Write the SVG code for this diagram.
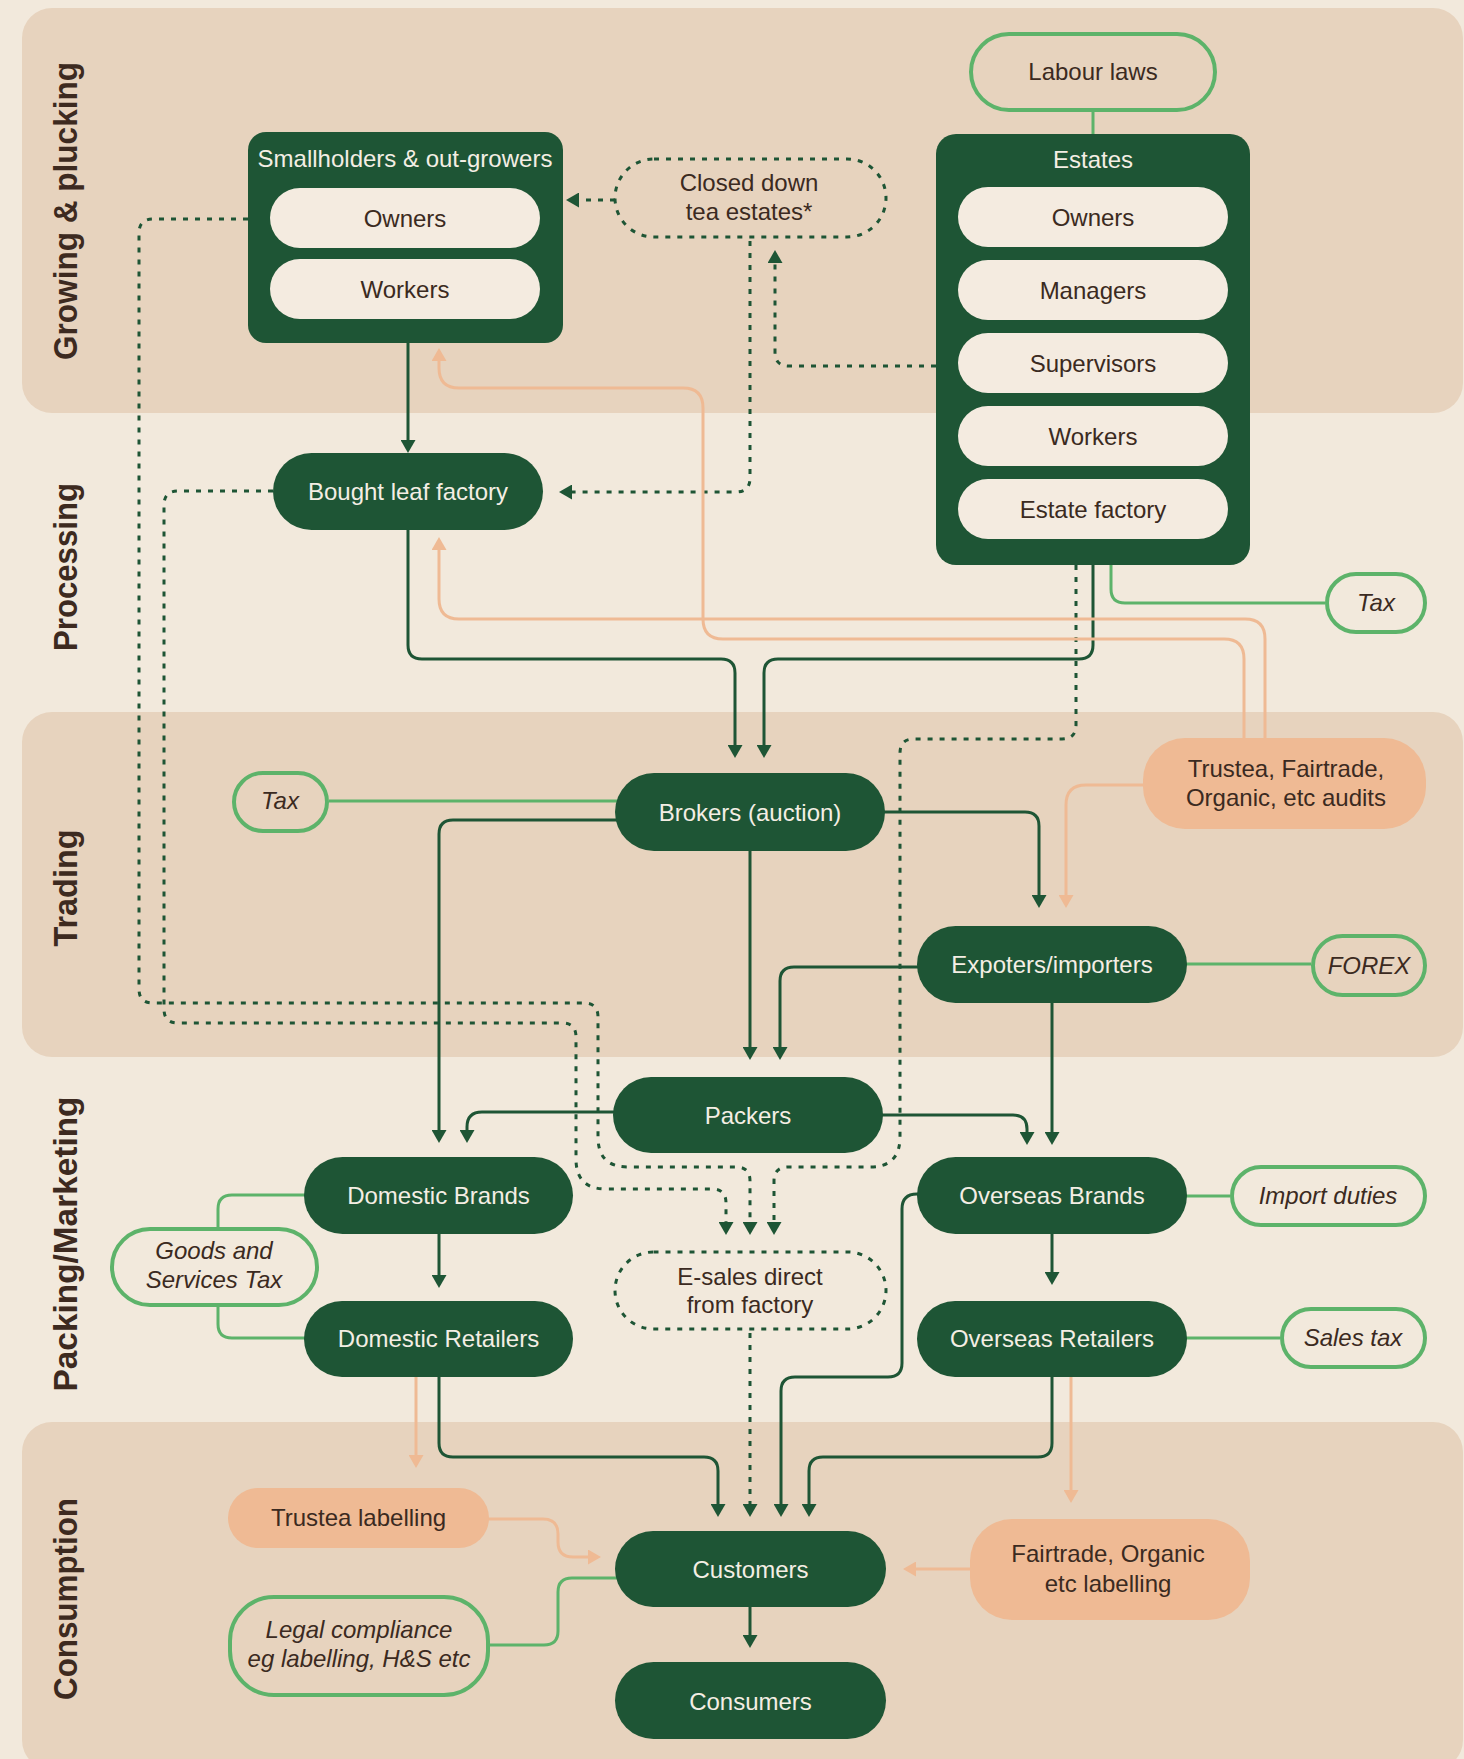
<svg xmlns="http://www.w3.org/2000/svg" width="1464" height="1759" viewBox="0 0 1464 1759">
<defs>
<style>
.band{fill:#E7D3BE}
.sec{font-family:"Liberation Sans",Arial,sans-serif;font-weight:bold;font-size:34px;fill:#3D2A20;text-anchor:middle}
.dk{fill:#1E5535}
.pl{fill:#F4EBE0}
.t{font-family:"Liberation Sans",Arial,sans-serif;font-size:24px;text-anchor:middle}
.w{fill:#F4EEE4}
.b{fill:#3B2A21}
.it{font-style:italic}
.og{fill:none;stroke:#5DB36A;stroke-width:4}
.pe{fill:#EFBA94}
.ds{fill:none;stroke:#1E5535;stroke-width:3;stroke-dasharray:5 7}
.c{fill:none;stroke-width:3}
.cd{stroke:#1E5535}
.cp{stroke:#EFBA94}
.cg{stroke:#5DB36A}
</style>
<marker id="ad" viewBox="0 0 13 15" refX="5" refY="7.5" markerWidth="13" markerHeight="15" markerUnits="userSpaceOnUse" orient="auto"><path d="M0,0 L13,7.5 L0,15 z" fill="#1E5535"/></marker>
<marker id="ap" viewBox="0 0 13 15" refX="5" refY="7.5" markerWidth="13" markerHeight="15" markerUnits="userSpaceOnUse" orient="auto"><path d="M0,0 L13,7.5 L0,15 z" fill="#EFBA94"/></marker>
</defs>
<rect width="1464" height="1759" fill="#F2E9DC"/>
<g id="bands">
<rect class="band" x="22" y="8" width="1441" height="405" rx="30"/>
<rect class="band" x="22" y="712" width="1441" height="345" rx="30"/>
<rect class="band" x="22" y="1422" width="1441" height="348" rx="30"/>
</g>
<g id="sections">
<text class="sec" transform="translate(77,211) rotate(-90)" textLength="298" lengthAdjust="spacingAndGlyphs">Growing &amp; plucking</text>
<text class="sec" transform="translate(77,567) rotate(-90)" textLength="168" lengthAdjust="spacingAndGlyphs">Processing</text>
<text class="sec" transform="translate(77,888) rotate(-90)" textLength="117" lengthAdjust="spacingAndGlyphs">Trading</text>
<text class="sec" transform="translate(77,1244) rotate(-90)" textLength="295" lengthAdjust="spacingAndGlyphs">Packing/Marketing</text>
<text class="sec" transform="translate(77,1599) rotate(-90)" textLength="202" lengthAdjust="spacingAndGlyphs">Consumption</text>
</g>
<g id="connectors">
<path class="c cd" marker-end="url(#ad)" d="M408,343 V445"/>
<path class="c cd" marker-end="url(#ad)" d="M408,530 V645 Q408,659 422,659 H721 Q735,659 735,673 V750"/>
<path class="c cd" marker-end="url(#ad)" d="M1093,565 V645 Q1093,659 1079,659 H778 Q764,659 764,673 V750"/>
<path class="c cd" marker-end="url(#ad)" d="M620,820 H453 Q439,820 439,834 V1135"/>
<path class="c cd" marker-end="url(#ad)" d="M618,1112 H482 Q467,1112 467,1127 V1135"/>
<path class="c cd" marker-end="url(#ad)" d="M750,851 V1052"/>
<path class="c cd" marker-end="url(#ad)" d="M922,967 H794 Q780,967 780,981 V1052"/>
<path class="c cd" marker-end="url(#ad)" d="M880,812 H1025 Q1039,812 1039,826 V900"/>
<path class="c cd" marker-end="url(#ad)" d="M1052,1003 V1137"/>
<path class="c cd" marker-end="url(#ad)" d="M878,1115 H1013 Q1027,1115 1027,1129 V1137"/>
<path class="c cd" marker-end="url(#ad)" d="M1052,1234 V1277"/>
<path class="c cd" marker-end="url(#ad)" d="M439,1234 V1280"/>
<path class="c cd" marker-end="url(#ad)" d="M439,1377 V1443 Q439,1457 453,1457 H704 Q718,1457 718,1471 V1509"/>
<path class="c cd" marker-end="url(#ad)" d="M922,1194 H917 Q902,1194 902,1209 V1363 Q902,1377 888,1377 H795 Q781,1377 781,1391 V1509"/>
<path class="c cd" marker-end="url(#ad)" d="M1052,1377 V1443 Q1052,1457 1038,1457 H823 Q809,1457 809,1471 V1509"/>
<path class="c cd" marker-end="url(#ad)" d="M750,1607 V1640"/>
<path class="ds" marker-end="url(#ad)" d="M615,200 H574"/>
<path class="ds" marker-end="url(#ad)" d="M750,241 V478 Q750,492 736,492 H567"/>
<path class="ds" marker-end="url(#ad)" d="M936,366 H789 Q775,366 775,352 V258"/>
<path class="ds" marker-end="url(#ad)" d="M248,219 H153 Q139,219 139,233 V989 Q139,1003 153,1003 H584 Q598,1003 598,1017 V1137 Q598,1167 628,1167 H736 Q750,1167 750,1181 V1227"/>
<path class="ds" marker-end="url(#ad)" d="M273,491 H178 Q164,491 164,505 V1009 Q164,1023 178,1023 H562 Q576,1023 576,1037 V1159 Q576,1189 606,1189 H712 Q726,1189 726,1203 V1227"/>
<path class="ds" marker-end="url(#ad)" d="M1076,565 V725 Q1076,739 1062,739 H914 Q900,739 900,753 V1137 Q900,1167 870,1167 H788 Q774,1167 774,1181 V1227"/>
<path class="ds" marker-end="url(#ad)" d="M750,1333 V1509"/>
<path class="c cp" marker-end="url(#ap)" d="M1265,738 V639 Q1265,619 1245,619 H459 Q439,619 439,599 V545"/>
<path class="c cp" marker-end="url(#ap)" d="M1244,738 V659 Q1244,639 1224,639 H723 Q703,639 703,619 V408 Q703,388 683,388 H459 Q439,388 439,368 V356"/>
<path class="c cp" marker-end="url(#ap)" d="M1148,785 H1086 Q1066,785 1066,805 V900"/>
<path class="c cp" marker-end="url(#ap)" d="M416,1377 V1460"/>
<path class="c cp" marker-end="url(#ap)" d="M484,1519 H543 Q558,1519 558,1534 V1542 Q558,1557 573,1557 H593"/>
<path class="c cp" marker-end="url(#ap)" d="M975,1569 H911"/>
<path class="c cp" marker-end="url(#ap)" d="M1071,1377 V1495"/>
<path class="c cg" d="M1093,112 V136"/>
<path class="c cg" d="M1111,563 V589 Q1111,603 1125,603 H1325"/>
<path class="c cg" d="M329,801 H622"/>
<path class="c cg" d="M1180,964 H1311"/>
<path class="c cg" d="M1180,1196 H1230"/>
<path class="c cg" d="M1180,1338 H1280"/>
<path class="c cg" d="M310,1195 H232 Q218,1195 218,1209 V1227"/>
<path class="c cg" d="M218,1307 V1324 Q218,1338 232,1338 H310"/>
<path class="c cg" d="M620,1578 H572 Q558,1578 558,1592 V1631 Q558,1645 544,1645 H490"/>
</g>
<g id="smallholders">
<rect class="dk" x="248" y="132" width="315" height="211" rx="18"/>
<text class="t w" x="405" y="167">Smallholders &amp; out-growers</text>
<rect class="pl" x="270" y="188" width="270" height="60" rx="30"/>
<text class="t b" x="405" y="227">Owners</text>
<rect class="pl" x="270" y="259" width="270" height="60" rx="30"/>
<text class="t b" x="405" y="298">Workers</text>
</g>
<g id="estates">
<rect class="dk" x="936" y="134" width="314" height="431" rx="20"/>
<text class="t w" x="1093" y="168">Estates</text>
<rect class="pl" x="958" y="187" width="270" height="60" rx="30"/>
<text class="t b" x="1093" y="226">Owners</text>
<rect class="pl" x="958" y="260" width="270" height="60" rx="30"/>
<text class="t b" x="1093" y="299">Managers</text>
<rect class="pl" x="958" y="333" width="270" height="60" rx="30"/>
<text class="t b" x="1093" y="372">Supervisors</text>
<rect class="pl" x="958" y="406" width="270" height="60" rx="30"/>
<text class="t b" x="1093" y="445">Workers</text>
<rect class="pl" x="958" y="479" width="270" height="60" rx="30"/>
<text class="t b" x="1093" y="518">Estate factory</text>
</g>
<g id="labour-laws">
<rect class="og" x="971" y="34" width="244" height="76" rx="38"/>
<text class="t b" x="1093" y="80">Labour laws</text>
</g>
<g id="closed-down">
<rect class="ds" x="615" y="159" width="271" height="78" rx="39"/>
<text class="t b" x="749" y="191">Closed down</text>
<text class="t b" x="749" y="220">tea estates*</text>
</g>
<g id="bought-leaf">
<rect class="dk" x="273" y="453" width="270" height="77" rx="38.5"/>
<text class="t w" x="408" y="500">Bought leaf factory</text>
</g>
<g id="tax-estates">
<rect class="og" x="1327" y="574" width="98" height="58" rx="29"/>
<text class="t b it" x="1376" y="611">Tax</text>
</g>
<g id="brokers">
<rect class="dk" x="615" y="773" width="270" height="78" rx="39"/>
<text class="t w" x="750" y="821">Brokers (auction)</text>
</g>
<g id="tax-trading">
<rect class="og" x="234" y="773" width="93" height="58" rx="29"/>
<text class="t b it" x="280" y="809">Tax</text>
</g>
<g id="audits">
<rect class="pe" x="1143" y="738" width="283" height="91" rx="42"/>
<text class="t b" x="1286" y="777">Trustea, Fairtrade,</text>
<text class="t b" x="1286" y="806">Organic, etc audits</text>
</g>
<g id="exporters">
<rect class="dk" x="917" y="926" width="270" height="77" rx="38.5"/>
<text class="t w" x="1052" y="973">Expoters/importers</text>
</g>
<g id="forex">
<rect class="og" x="1313" y="936" width="112" height="59" rx="29.5"/>
<text class="t b it" x="1369" y="974">FOREX</text>
</g>
<g id="packers">
<rect class="dk" x="613" y="1077" width="270" height="76" rx="38"/>
<text class="t w" x="748" y="1124">Packers</text>
</g>
<g id="domestic-brands">
<rect class="dk" x="304" y="1157" width="269" height="77" rx="38.5"/>
<text class="t w" x="438.5" y="1204">Domestic Brands</text>
</g>
<g id="overseas-brands">
<rect class="dk" x="917" y="1157" width="270" height="77" rx="38.5"/>
<text class="t w" x="1052" y="1204">Overseas Brands</text>
</g>
<g id="import-duties">
<rect class="og" x="1232" y="1167" width="193" height="58" rx="29"/>
<text class="t b it" x="1328" y="1204">Import duties</text>
</g>
<g id="gst">
<rect class="og" x="112" y="1229" width="205" height="76" rx="38"/>
<text class="t b it" x="214" y="1259">Goods and</text>
<text class="t b it" x="214" y="1288">Services Tax</text>
</g>
<g id="e-sales">
<rect class="ds" x="615" y="1252" width="271" height="77" rx="38.5"/>
<text class="t b" x="750" y="1285">E-sales direct</text>
<text class="t b" x="750" y="1313">from factory</text>
</g>
<g id="domestic-retailers">
<rect class="dk" x="304" y="1301" width="269" height="76" rx="38"/>
<text class="t w" x="438.5" y="1347">Domestic Retailers</text>
</g>
<g id="overseas-retailers">
<rect class="dk" x="917" y="1301" width="270" height="76" rx="38"/>
<text class="t w" x="1052" y="1347">Overseas Retailers</text>
</g>
<g id="sales-tax">
<rect class="og" x="1282" y="1309" width="143" height="58" rx="29"/>
<text class="t b it" x="1353" y="1346">Sales tax</text>
</g>
<g id="trustea-labelling">
<rect class="pe" x="228" y="1488" width="261" height="60" rx="30"/>
<text class="t b" x="358.5" y="1526">Trustea labelling</text>
</g>
<g id="customers">
<rect class="dk" x="615" y="1531" width="271" height="76" rx="38"/>
<text class="t w" x="750.5" y="1578">Customers</text>
</g>
<g id="fairtrade-labelling">
<rect class="pe" x="970" y="1519" width="280" height="101" rx="42"/>
<text class="t b" x="1108" y="1562">Fairtrade, Organic</text>
<text class="t b" x="1108" y="1592">etc labelling</text>
</g>
<g id="legal">
<rect class="og" x="230" y="1597" width="258" height="98" rx="44"/>
<text class="t b it" x="359" y="1638">Legal compliance</text>
<text class="t b it" x="359" y="1667">eg labelling, H&amp;S etc</text>
</g>
<g id="consumers">
<rect class="dk" x="615" y="1662" width="271" height="77" rx="38.5"/>
<text class="t w" x="750.5" y="1710">Consumers</text>
</g>
</svg>
